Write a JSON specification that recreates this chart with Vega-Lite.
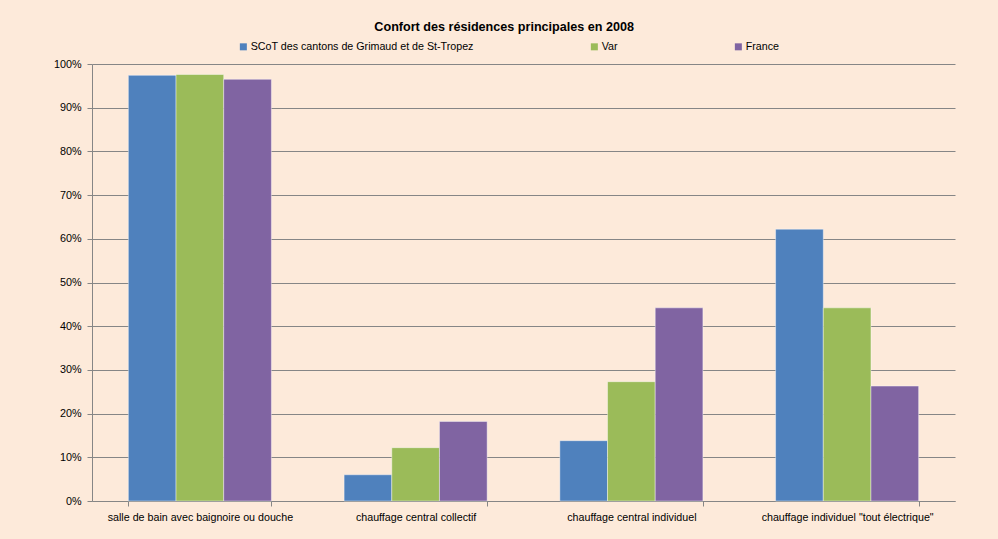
{
  "$schema": "https://vega.github.io/schema/vega-lite/v6.json",
  "width": 863,
  "height": 437,
  "autosize": {"type": "none"},
  "padding": {"left": 92, "top": 64, "right": 43, "bottom": 38},
  "background": "#FDEADA",
  "title": {
    "text": "Confort des résidences principales en 2008",
    "font": "Liberation Sans",
    "fontSize": 12.6,
    "fontWeight": "bold",
    "color": "#000000",
    "anchor": "middle",
    "frame": "bounds",
    "offset": 7
  },
  "data": {
    "values": [
      {"cat": "salle de bain avec baignoire ou douche", "serie": "SCoT des cantons de Grimaud et de St-Tropez", "value": 97.4},
      {"cat": "salle de bain avec baignoire ou douche", "serie": "Var", "value": 97.6},
      {"cat": "salle de bain avec baignoire ou douche", "serie": "France", "value": 96.5},
      {"cat": "chauffage central collectif", "serie": "SCoT des cantons de Grimaud et de St-Tropez", "value": 6.0},
      {"cat": "chauffage central collectif", "serie": "Var", "value": 12.2},
      {"cat": "chauffage central collectif", "serie": "France", "value": 18.2},
      {"cat": "chauffage central individuel", "serie": "SCoT des cantons de Grimaud et de St-Tropez", "value": 13.8},
      {"cat": "chauffage central individuel", "serie": "Var", "value": 27.3},
      {"cat": "chauffage central individuel", "serie": "France", "value": 44.2},
      {"cat": "chauffage individuel \"tout électrique\"", "serie": "SCoT des cantons de Grimaud et de St-Tropez", "value": 62.2},
      {"cat": "chauffage individuel \"tout électrique\"", "serie": "Var", "value": 44.2},
      {"cat": "chauffage individuel \"tout électrique\"", "serie": "France", "value": 26.3}
    ]
  },
  "mark": {"type": "bar", "stroke": "#FFFFFF", "strokeWidth": 0.7, "strokeOpacity": 0.6},
  "encoding": {
    "x": {
      "field": "cat",
      "type": "nominal",
      "sort": null,
      "title": null,
      "scale": {"paddingInner": 0.337, "paddingOuter": 0.1685},
      "axis": {
        "labelAngle": 0,
        "labelLimit": 0,
        "tickBand": "extent",
        "labelFont": "Liberation Sans",
        "labelFontSize": 10.7,
        "labelColor": "#000000",
        "labelPadding": 6,
        "tickSize": 5,
        "tickColor": "#868686",
        "domainColor": "#868686",
        "grid": false
      }
    },
    "xOffset": {
      "field": "serie",
      "type": "nominal",
      "sort": ["SCoT des cantons de Grimaud et de St-Tropez", "Var", "France"],
      "scale": {"paddingInner": 0, "paddingOuter": 0}
    },
    "y": {
      "field": "value",
      "type": "quantitative",
      "title": null,
      "scale": {"domain": [0, 100], "nice": false},
      "axis": {
        "values": [0, 10, 20, 30, 40, 50, 60, 70, 80, 90, 100],
        "labelExpr": "datum.value + '%'",
        "labelFont": "Liberation Sans",
        "labelFontSize": 10.8,
        "labelColor": "#000000",
        "labelPadding": 6,
        "tickSize": 5,
        "tickColor": "#868686",
        "domainColor": "#868686",
        "gridColor": "#868686",
        "gridWidth": 1
      }
    },
    "color": {
      "field": "serie",
      "type": "nominal",
      "sort": ["SCoT des cantons de Grimaud et de St-Tropez", "Var", "France"],
      "scale": {
        "domain": ["SCoT des cantons de Grimaud et de St-Tropez", "Var", "France"],
        "range": ["#4F81BD", "#9BBB59", "#8064A2"]
      },
      "legend": {
        "title": null,
        "orient": "none",
        "direction": "horizontal",
        "columns": 3,
        "columnPadding": 115,
        "legendX": 146,
        "legendY": -23,
        "symbolType": "square",
        "symbolSize": 49,
        "symbolStrokeWidth": 0,
        "labelOffset": 2,
        "labelLimit": 0,
        "labelFont": "Liberation Sans",
        "labelFontSize": 10.7,
        "labelColor": "#000000"
      }
    }
  },
  "config": {
    "view": {"stroke": null},
    "axis": {"labelFont": "Liberation Sans"}
  }
}
